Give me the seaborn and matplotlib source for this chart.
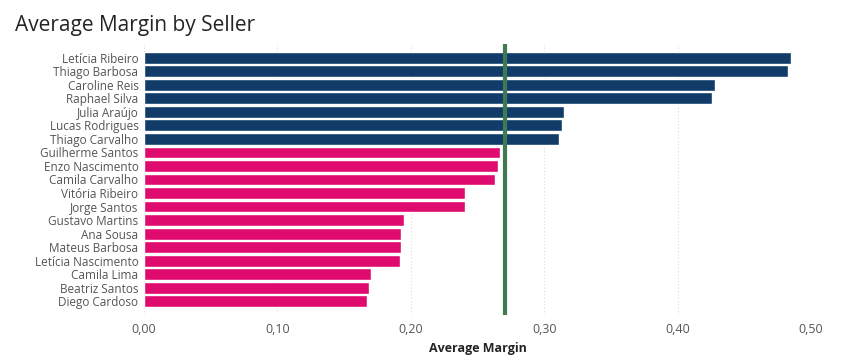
import pandas as pd
import matplotlib.pyplot as plt
import seaborn as sns

# --------------------------------------------------
# DATA
# --------------------------------------------------

sellers = [
    "Letícia Ribeiro", "Thiago Barbosa", "Caroline Reis", "Raphael Silva",
    "Julia Araújo", "Lucas Rodrigues", "Thiago Carvalho", "Guilherme Santos",
    "Enzo Nascimento", "Camila Carvalho", "Vitória Ribeiro", "Jorge Santos",
    "Gustavo Martins", "Ana Sousa", "Mateus Barbosa", "Letícia Nascimento",
    "Camila Lima", "Beatriz Santos", "Diego Cardoso",
]

margins = [
    0.485, 0.483, 0.428, 0.426, 0.315, 0.313, 0.311, 0.267,
    0.265, 0.263, 0.241, 0.241, 0.195, 0.193, 0.193, 0.192,
    0.170, 0.169, 0.167,
]

average_margin = 0.2705

df = pd.DataFrame({"Seller": sellers, "Margin": margins})
df["Group"] = ["Above" if m > average_margin else "Below" for m in df["Margin"]]

# --------------------------------------------------
# PLOT
# --------------------------------------------------

sns.set_style("white")
plt.rcParams["font.family"] = ["Open Sans", "DejaVu Sans"]

fig = plt.figure(figsize=(8.49, 3.62), dpi=100)
ax = fig.add_axes([144 / 849, 1 - 315 / 362, (811 - 144) / 849, 271 / 362])

sns.barplot(
    data=df,
    x="Margin",
    y="Seller",
    hue="Group",
    palette={"Above": "#113c6a", "Below": "#e00b6e"},
    saturation=1,
    width=0.88,
    dodge=False,
    legend=False,
    ax=ax,
)

ax.axvline(average_margin, color="#3f7a52", linewidth=3, zorder=5)

ax.set_xlim(0, 0.5)
ax.set_ylim(len(sellers) - 0.5 + 0.52, -0.5 - 0.52)
ax.set_xticks([0, 0.1, 0.2, 0.3, 0.4, 0.5])
ax.set_xticklabels([f"{t:.2f}".replace(".", ",") for t in ax.get_xticks()])

ax.grid(axis="x", color="#dddddd", linestyle=(0, (1, 2)), linewidth=0.8)
ax.set_axisbelow(True)
for s in ax.spines.values():
    s.set_visible(False)

ax.tick_params(axis="both", length=0, colors="#555555", labelsize=8.5)
ax.tick_params(axis="y", pad=4)
ax.tick_params(axis="x", pad=6, labelsize=9)

ax.set_ylabel("")
ax.set_xlabel("Average Margin", fontsize=9, fontweight="bold",
              color="#252423", labelpad=4)

fig.text(15 / 849, 1 - 25 / 362, "Average Margin by Seller",
         fontsize=15, color="#252423", va="center", ha="left")

fig.savefig("out.png", dpi=100)
plt.close()
